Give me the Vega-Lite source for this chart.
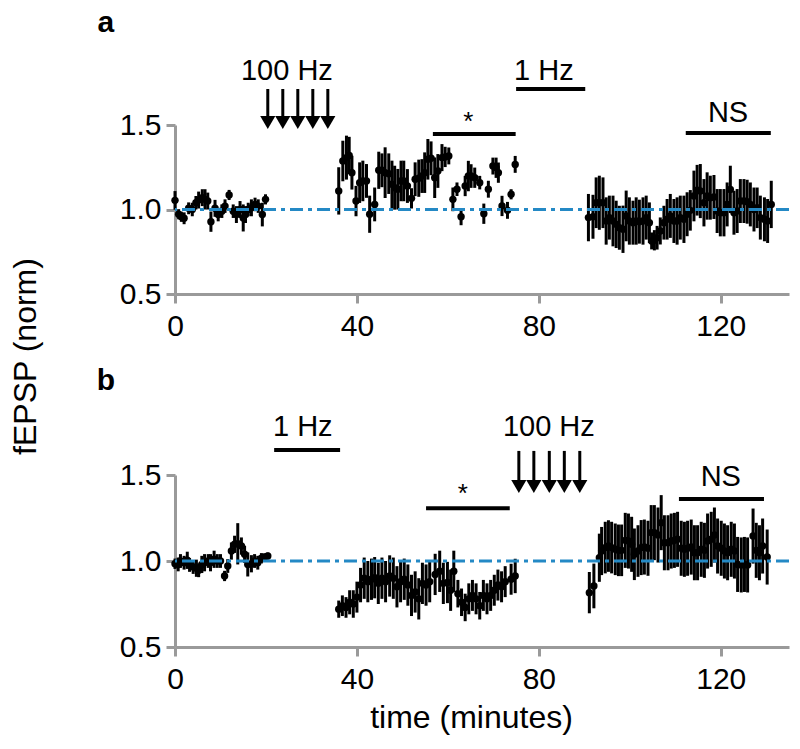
{
  "$schema": "https://vega.github.io/schema/vega-lite/v6.json",
  "background": "white",
  "padding": {"left": 8, "top": 7, "right": 5, "bottom": 5},
  "bounds": "flush",
  "spacing": 181,
  "config": {
    "view": {"stroke": null},
    "font": "Liberation Sans",
    "axis": {"domainColor": "#9a9a9a", "domainWidth": 3, "tickColor": "#9a9a9a", "tickWidth": 3, "tickSize": 9, "labelFont": "Liberation Sans", "labelFontSize": 30, "labelColor": "black", "titleFont": "Liberation Sans", "titleFontSize": 32, "titleFontWeight": "normal", "titleColor": "black", "grid": false, "labelFlush": false}
  },
  "datasets": {
    "ref": [{"level": 1}],
    "pa": [
      {"t":0.0,"v":1.054,"e":0.055},{"t":0.8,"v":0.972,"e":0.03},{"t":1.4,"v":0.957,"e":0.03},{"t":2.0,"v":0.948,"e":0.035},{"t":3.0,"v":1.007,"e":0.035},{"t":3.8,"v":1.0,"e":0.04},{"t":4.6,"v":1.04,"e":0.04},{"t":5.2,"v":1.056,"e":0.05},{"t":6.0,"v":1.07,"e":0.05},{"t":6.6,"v":1.06,"e":0.06},{"t":7.2,"v":1.05,"e":0.05},{"t":7.9,"v":0.928,"e":0.06},{"t":8.8,"v":1.007,"e":0.05},{"t":9.5,"v":0.97,"e":0.04},{"t":10.3,"v":0.99,"e":0.04},{"t":11.0,"v":1.02,"e":0.04},{"t":11.9,"v":1.086,"e":0.03},{"t":12.8,"v":0.99,"e":0.04},{"t":13.5,"v":0.97,"e":0.05},{"t":14.3,"v":1.0,"e":0.05},{"t":15.0,"v":0.95,"e":0.08},{"t":15.5,"v":0.97,"e":0.05},{"t":16.1,"v":1.0,"e":0.04},{"t":16.8,"v":1.01,"e":0.05},{"t":17.6,"v":1.03,"e":0.04},{"t":18.3,"v":1.02,"e":0.04},{"t":19.2,"v":0.97,"e":0.07},{"t":19.9,"v":1.06,"e":0.03},
      {"t":36.0,"v":1.11,"e":0.14},{"t":36.9,"v":1.287,"e":0.12},{"t":37.7,"v":1.307,"e":0.13},{"t":38.3,"v":1.32,"e":0.11},{"t":38.9,"v":1.218,"e":0.1},{"t":39.8,"v":1.05,"e":0.09},{"t":40.6,"v":1.159,"e":0.12},{"t":41.3,"v":1.169,"e":0.12},{"t":42.1,"v":1.169,"e":0.1},{"t":42.8,"v":0.972,"e":0.11},{"t":43.9,"v":1.03,"e":0.1},{"t":44.8,"v":1.232,"e":0.11},{"t":45.5,"v":1.232,"e":0.1},{"t":46.2,"v":1.218,"e":0.15},{"t":47.0,"v":1.212,"e":0.12},{"t":47.7,"v":1.149,"e":0.14},{"t":48.3,"v":1.129,"e":0.13},{"t":49.0,"v":1.12,"e":0.12},{"t":49.7,"v":1.169,"e":0.12},{"t":50.3,"v":1.169,"e":0.12},{"t":51.1,"v":1.139,"e":0.1},{"t":52.0,"v":1.066,"e":0.06},{"t":52.8,"v":1.179,"e":0.1},{"t":53.6,"v":1.185,"e":0.11},{"t":54.3,"v":1.198,"e":0.1},{"t":54.9,"v":1.218,"e":0.12},{"t":55.6,"v":1.297,"e":0.12},{"t":56.3,"v":1.303,"e":0.1},{"t":57.1,"v":1.188,"e":0.12},{"t":57.8,"v":1.228,"e":0.1},{"t":58.7,"v":1.307,"e":0.08},{"t":59.4,"v":1.311,"e":0.06},{"t":60.2,"v":1.317,"e":0.05},{"t":61.1,"v":1.06,"e":0.07},{"t":62.0,"v":1.12,"e":0.04},{"t":62.9,"v":0.957,"e":0.05},{"t":63.8,"v":1.139,"e":0.06},{"t":64.5,"v":1.198,"e":0.09},{"t":65.1,"v":1.198,"e":0.07},{"t":65.9,"v":1.188,"e":0.06},{"t":67.0,"v":1.159,"e":0.04},{"t":67.9,"v":0.975,"e":0.06},{"t":68.9,"v":1.12,"e":0.05},{"t":69.9,"v":1.257,"e":0.05},{"t":70.6,"v":1.247,"e":0.06},{"t":71.1,"v":1.218,"e":0.06},{"t":71.9,"v":1.021,"e":0.06},{"t":73.1,"v":0.995,"e":0.05},{"t":73.9,"v":1.09,"e":0.03},{"t":74.8,"v":1.267,"e":0.05},
      {"t":90.9,"v":0.952,"e":0.14},{"t":91.9,"v":0.957,"e":0.13},{"t":92.6,"v":1.04,"e":0.15},{"t":93.3,"v":1.04,"e":0.16},{"t":94.1,"v":1.04,"e":0.15},{"t":94.8,"v":0.932,"e":0.14},{"t":95.5,"v":0.952,"e":0.13},{"t":96.3,"v":0.932,"e":0.15},{"t":97.0,"v":0.912,"e":0.14},{"t":97.7,"v":0.892,"e":0.13},{"t":98.5,"v":0.883,"e":0.14},{"t":99.2,"v":0.962,"e":0.15},{"t":99.9,"v":0.932,"e":0.14},{"t":100.7,"v":0.922,"e":0.13},{"t":101.4,"v":0.932,"e":0.14},{"t":102.1,"v":0.928,"e":0.13},{"t":102.9,"v":0.932,"e":0.14},{"t":103.6,"v":0.952,"e":0.13},{"t":104.3,"v":0.922,"e":0.12},{"t":104.8,"v":0.814,"e":0.05},{"t":105.4,"v":0.818,"e":0.06},{"t":106.0,"v":0.833,"e":0.07},{"t":106.7,"v":0.873,"e":0.08},{"t":107.5,"v":0.922,"e":0.1},{"t":108.2,"v":0.942,"e":0.12},{"t":108.9,"v":0.962,"e":0.13},{"t":109.7,"v":0.932,"e":0.13},{"t":110.4,"v":0.932,"e":0.14},{"t":111.1,"v":0.952,"e":0.13},{"t":111.9,"v":0.942,"e":0.14},{"t":112.6,"v":0.972,"e":0.13},{"t":113.3,"v":0.995,"e":0.12},{"t":114.1,"v":1.08,"e":0.15},{"t":114.8,"v":1.114,"e":0.15},{"t":115.5,"v":1.109,"e":0.16},{"t":116.3,"v":1.04,"e":0.14},{"t":117.0,"v":1.08,"e":0.14},{"t":117.7,"v":1.07,"e":0.13},{"t":118.5,"v":1.074,"e":0.13},{"t":119.2,"v":0.991,"e":0.13},{"t":119.9,"v":0.981,"e":0.14},{"t":120.7,"v":0.981,"e":0.14},{"t":121.4,"v":1.03,"e":0.13},{"t":122.1,"v":1.119,"e":0.14},{"t":122.9,"v":0.981,"e":0.13},{"t":123.6,"v":0.991,"e":0.13},{"t":124.3,"v":1.05,"e":0.13},{"t":125.1,"v":1.05,"e":0.13},{"t":125.8,"v":1.046,"e":0.13},{"t":126.5,"v":1.03,"e":0.13},{"t":127.3,"v":1.0,"e":0.13},{"t":128.0,"v":1.01,"e":0.12},{"t":128.7,"v":0.952,"e":0.13},{"t":129.6,"v":0.942,"e":0.13},{"t":130.3,"v":0.932,"e":0.13},{"t":131.1,"v":1.03,"e":0.14}
    ],
    "pb": [
      {"t":0.0,"v":0.984,"e":0.03},{"t":0.7,"v":0.98,"e":0.04},{"t":1.2,"v":1.0,"e":0.04},{"t":2.0,"v":0.99,"e":0.04},{"t":2.7,"v":1.004,"e":0.05},{"t":3.2,"v":0.977,"e":0.04},{"t":4.0,"v":0.965,"e":0.04},{"t":4.7,"v":0.958,"e":0.05},{"t":5.2,"v":0.946,"e":0.04},{"t":5.9,"v":0.98,"e":0.05},{"t":6.5,"v":0.99,"e":0.05},{"t":7.3,"v":1.0,"e":0.04},{"t":7.8,"v":0.99,"e":0.05},{"t":8.6,"v":1.01,"e":0.05},{"t":9.3,"v":1.0,"e":0.04},{"t":10.0,"v":1.0,"e":0.04},{"t":10.9,"v":0.913,"e":0.03},{"t":11.6,"v":0.971,"e":0.04},{"t":12.4,"v":1.058,"e":0.05},{"t":13.1,"v":1.097,"e":0.05},{"t":13.8,"v":1.1,"e":0.12},{"t":14.6,"v":1.087,"e":0.05},{"t":15.3,"v":1.039,"e":0.05},{"t":16.0,"v":0.98,"e":0.07},{"t":16.8,"v":0.984,"e":0.05},{"t":17.5,"v":1.0,"e":0.04},{"t":18.2,"v":0.99,"e":0.04},{"t":19.0,"v":1.016,"e":0.03},{"t":19.7,"v":1.023,"e":0.02},{"t":20.4,"v":1.029,"e":0.02},
      {"t":36.0,"v":0.72,"e":0.05},{"t":36.8,"v":0.74,"e":0.06},{"t":37.6,"v":0.73,"e":0.06},{"t":38.4,"v":0.76,"e":0.07},{"t":39.2,"v":0.75,"e":0.08},{"t":40.0,"v":0.79,"e":0.09},{"t":40.8,"v":0.86,"e":0.1},{"t":41.6,"v":0.9,"e":0.12},{"t":42.4,"v":0.88,"e":0.12},{"t":43.2,"v":0.894,"e":0.12},{"t":43.9,"v":0.903,"e":0.12},{"t":44.7,"v":0.87,"e":0.12},{"t":45.5,"v":0.9,"e":0.12},{"t":46.3,"v":0.88,"e":0.12},{"t":47.2,"v":0.913,"e":0.12},{"t":48.0,"v":0.9,"e":0.12},{"t":48.8,"v":0.85,"e":0.12},{"t":49.6,"v":0.88,"e":0.12},{"t":50.4,"v":0.894,"e":0.12},{"t":51.2,"v":0.86,"e":0.12},{"t":52.0,"v":0.8,"e":0.12},{"t":52.8,"v":0.82,"e":0.12},{"t":53.6,"v":0.78,"e":0.12},{"t":54.4,"v":0.87,"e":0.12},{"t":55.2,"v":0.86,"e":0.12},{"t":56.0,"v":0.88,"e":0.12},{"t":57.2,"v":0.922,"e":0.12},{"t":58.2,"v":0.94,"e":0.12},{"t":59.0,"v":0.87,"e":0.12},{"t":59.9,"v":0.875,"e":0.12},{"t":60.6,"v":0.83,"e":0.12},{"t":61.3,"v":0.94,"e":0.12},{"t":62.2,"v":0.81,"e":0.08},{"t":63.0,"v":0.76,"e":0.08},{"t":63.8,"v":0.73,"e":0.08},{"t":64.6,"v":0.78,"e":0.09},{"t":65.4,"v":0.8,"e":0.09},{"t":66.2,"v":0.78,"e":0.09},{"t":67.0,"v":0.74,"e":0.08},{"t":67.8,"v":0.8,"e":0.09},{"t":68.6,"v":0.78,"e":0.09},{"t":69.4,"v":0.8,"e":0.09},{"t":70.2,"v":0.83,"e":0.09},{"t":71.0,"v":0.86,"e":0.09},{"t":71.8,"v":0.85,"e":0.09},{"t":72.6,"v":0.88,"e":0.09},{"t":73.9,"v":0.894,"e":0.09},{"t":74.8,"v":0.913,"e":0.1},
      {"t":91.1,"v":0.816,"e":0.12},{"t":92.1,"v":0.855,"e":0.13},{"t":93.3,"v":1.019,"e":0.14},{"t":93.8,"v":1.058,"e":0.14},{"t":94.6,"v":1.078,"e":0.15},{"t":95.3,"v":1.087,"e":0.15},{"t":96.0,"v":1.078,"e":0.15},{"t":96.8,"v":1.068,"e":0.15},{"t":97.5,"v":1.062,"e":0.15},{"t":98.2,"v":1.062,"e":0.15},{"t":99.0,"v":1.12,"e":0.16},{"t":99.7,"v":1.116,"e":0.16},{"t":100.4,"v":1.097,"e":0.16},{"t":101.0,"v":1.039,"e":0.15},{"t":101.8,"v":1.058,"e":0.15},{"t":102.5,"v":1.078,"e":0.16},{"t":103.2,"v":1.081,"e":0.16},{"t":104.0,"v":1.074,"e":0.16},{"t":104.7,"v":1.165,"e":0.16},{"t":105.4,"v":1.165,"e":0.16},{"t":106.2,"v":1.151,"e":0.16},{"t":106.9,"v":1.223,"e":0.16},{"t":107.6,"v":1.106,"e":0.16},{"t":108.4,"v":1.106,"e":0.16},{"t":109.1,"v":1.116,"e":0.16},{"t":109.8,"v":1.12,"e":0.16},{"t":110.5,"v":1.126,"e":0.16},{"t":111.3,"v":1.074,"e":0.16},{"t":112.0,"v":1.068,"e":0.16},{"t":112.7,"v":1.074,"e":0.16},{"t":113.5,"v":1.081,"e":0.16},{"t":114.2,"v":1.048,"e":0.16},{"t":114.9,"v":1.048,"e":0.16},{"t":115.7,"v":1.068,"e":0.16},{"t":116.4,"v":1.062,"e":0.16},{"t":117.1,"v":1.116,"e":0.16},{"t":117.9,"v":1.126,"e":0.16},{"t":118.6,"v":1.151,"e":0.16},{"t":119.3,"v":1.087,"e":0.16},{"t":120.1,"v":1.074,"e":0.16},{"t":120.8,"v":1.058,"e":0.16},{"t":121.5,"v":1.048,"e":0.16},{"t":122.3,"v":1.068,"e":0.16},{"t":123.0,"v":1.058,"e":0.16},{"t":123.7,"v":0.98,"e":0.16},{"t":124.5,"v":0.977,"e":0.16},{"t":125.2,"v":0.98,"e":0.16},{"t":125.9,"v":0.977,"e":0.16},{"t":127.1,"v":1.145,"e":0.16},{"t":127.8,"v":1.062,"e":0.16},{"t":128.5,"v":1.048,"e":0.16},{"t":129.2,"v":1.087,"e":0.16},{"t":130.2,"v":1.023,"e":0.16}
    ],
    "arrowsA": [{"t":20.4,"top":1.713,"head":1.515},{"t":23.7,"top":1.713,"head":1.515},{"t":27.0,"top":1.713,"head":1.515},{"t":30.3,"top":1.713,"head":1.515},{"t":33.6,"top":1.713,"head":1.515}],
    "arrowsB": [{"t":75.6,"top":1.64,"head":1.433},{"t":78.9,"top":1.64,"head":1.433},{"t":82.3,"top":1.64,"head":1.433},{"t":85.6,"top":1.64,"head":1.433},{"t":89.0,"top":1.64,"head":1.433}],
    "barsA": [{"t1":75.0,"t2":90.2,"v":1.713},{"t1":56.7,"t2":74.9,"v":1.447},{"t1":112.3,"t2":131.0,"v":1.453}],
    "barsB": [{"t1":21.8,"t2":36.3,"v":1.645},{"t1":55.2,"t2":73.6,"v":1.306},{"t1":110.8,"t2":129.5,"v":1.36}],
    "textA": [{"t":24.6,"v":1.82,"label":"100 Hz"},{"t":81.1,"v":1.82,"label":"1 Hz"},{"t":121.6,"v":1.571,"label":"NS"}],
    "textB": [{"t":28.1,"v":1.779,"label":"1 Hz"},{"t":82.2,"v":1.779,"label":"100 Hz"},{"t":120.0,"v":1.488,"label":"NS"}],
    "starA": [{"t":64.5,"v":1.52,"label":"*"}],
    "starB": [{"t":63.3,"v":1.39,"label":"*"}],
    "letterA": [{"t":-15.2,"v":2.104,"label":"a"}],
    "letterB": [{"t":-15.2,"v":2.047,"label":"b"}]
  },
  "vconcat": [
    {
      "width": 614,
      "height": 169,
      "layer": [
        {"data": {"name": "pa"}, "mark": {"type": "errorbar", "color": "black", "thickness": 3}, "encoding": {"x": {"field": "t", "type": "quantitative", "scale": {"domain": [0, 135], "nice": false}, "axis": {"values": [0, 40, 80, 120], "labelPadding": 8, "title": null}}, "y": {"field": "v", "type": "quantitative", "title": "fEPSP (norm)", "scale": {"domain": [0.5, 1.5], "nice": false, "zero": false}, "axis": {"values": [0.5, 1, 1.5], "format": ".1f", "labelPadding": 5, "title": "fEPSP (norm)", "titleAngle": -90, "titleBaseline": "alphabetic", "titleX": -140, "titleY": 231}}, "yError": {"field": "e"}}},
        {"data": {"name": "pa"}, "mark": {"type": "point", "filled": true, "color": "black", "opacity": 1, "size": 55}, "encoding": {"x": {"field": "t", "type": "quantitative", "title": null}, "y": {"field": "v", "type": "quantitative", "title": "fEPSP (norm)"}}},
        {"data": {"name": "barsA"}, "mark": {"type": "rule", "color": "black", "strokeWidth": 4}, "encoding": {"x": {"field": "t1", "type": "quantitative", "title": null}, "x2": {"field": "t2"}, "y": {"field": "v", "type": "quantitative", "title": "fEPSP (norm)"}}},
        {"data": {"name": "arrowsA"}, "mark": {"type": "rule", "color": "black", "strokeWidth": 3}, "encoding": {"x": {"field": "t", "type": "quantitative", "title": null}, "y": {"field": "top", "type": "quantitative", "title": "fEPSP (norm)"}, "y2": {"field": "head"}}},
        {"data": {"name": "arrowsA"}, "mark": {"type": "point", "shape": "triangle-down", "filled": true, "color": "black", "opacity": 1, "size": 230}, "encoding": {"x": {"field": "t", "type": "quantitative", "title": null}, "y": {"field": "head", "type": "quantitative", "title": "fEPSP (norm)"}}},
        {"data": {"name": "textA"}, "mark": {"type": "text", "font": "Liberation Sans", "fontSize": 29, "color": "black", "baseline": "middle", "align": "center"}, "encoding": {"x": {"field": "t", "type": "quantitative", "title": null}, "y": {"field": "v", "type": "quantitative", "title": "fEPSP (norm)"}, "text": {"field": "label"}}},
        {"data": {"name": "starA"}, "mark": {"type": "text", "font": "Liberation Sans", "fontSize": 26, "color": "black", "baseline": "middle", "align": "center"}, "encoding": {"x": {"field": "t", "type": "quantitative", "title": null}, "y": {"field": "v", "type": "quantitative", "title": "fEPSP (norm)"}, "text": {"field": "label"}}},
        {"data": {"name": "letterA"}, "mark": {"type": "text", "font": "Liberation Sans", "fontSize": 30, "fontWeight": "bold", "color": "black", "baseline": "middle", "align": "center"}, "encoding": {"x": {"field": "t", "type": "quantitative", "title": null}, "y": {"field": "v", "type": "quantitative", "title": "fEPSP (norm)"}, "text": {"field": "label"}}},
        {"data": {"name": "ref"}, "mark": {"type": "rule", "color": "#2489c5", "strokeWidth": 3, "strokeDash": [13, 5, 4, 5]}, "encoding": {"y": {"field": "level", "type": "quantitative", "title": "fEPSP (norm)"}}}
      ]
    },
    {
      "width": 614,
      "height": 172,
      "layer": [
        {"data": {"name": "pb"}, "mark": {"type": "errorbar", "color": "black", "thickness": 3}, "encoding": {"x": {"field": "t", "type": "quantitative", "title": "time (minutes)", "scale": {"domain": [0, 135], "nice": false}, "axis": {"values": [0, 40, 80, 120], "labelPadding": 8, "title": "time (minutes)", "titlePadding": 8, "titleX": 296}}, "y": {"field": "v", "type": "quantitative", "scale": {"domain": [0.5, 1.5], "nice": false, "zero": false}, "axis": {"values": [0.5, 1, 1.5], "format": ".1f", "labelPadding": 5, "title": null}}, "yError": {"field": "e"}}},
        {"data": {"name": "pb"}, "mark": {"type": "point", "filled": true, "color": "black", "opacity": 1, "size": 55}, "encoding": {"x": {"field": "t", "type": "quantitative", "title": "time (minutes)"}, "y": {"field": "v", "type": "quantitative"}}},
        {"data": {"name": "barsB"}, "mark": {"type": "rule", "color": "black", "strokeWidth": 4}, "encoding": {"x": {"field": "t1", "type": "quantitative", "title": "time (minutes)"}, "x2": {"field": "t2"}, "y": {"field": "v", "type": "quantitative"}}},
        {"data": {"name": "arrowsB"}, "mark": {"type": "rule", "color": "black", "strokeWidth": 3}, "encoding": {"x": {"field": "t", "type": "quantitative", "title": "time (minutes)"}, "y": {"field": "top", "type": "quantitative"}, "y2": {"field": "head"}}},
        {"data": {"name": "arrowsB"}, "mark": {"type": "point", "shape": "triangle-down", "filled": true, "color": "black", "opacity": 1, "size": 230}, "encoding": {"x": {"field": "t", "type": "quantitative", "title": "time (minutes)"}, "y": {"field": "head", "type": "quantitative"}}},
        {"data": {"name": "textB"}, "mark": {"type": "text", "font": "Liberation Sans", "fontSize": 29, "color": "black", "baseline": "middle", "align": "center"}, "encoding": {"x": {"field": "t", "type": "quantitative", "title": "time (minutes)"}, "y": {"field": "v", "type": "quantitative"}, "text": {"field": "label"}}},
        {"data": {"name": "starB"}, "mark": {"type": "text", "font": "Liberation Sans", "fontSize": 26, "color": "black", "baseline": "middle", "align": "center"}, "encoding": {"x": {"field": "t", "type": "quantitative", "title": "time (minutes)"}, "y": {"field": "v", "type": "quantitative"}, "text": {"field": "label"}}},
        {"data": {"name": "letterB"}, "mark": {"type": "text", "font": "Liberation Sans", "fontSize": 30, "fontWeight": "bold", "color": "black", "baseline": "middle", "align": "center"}, "encoding": {"x": {"field": "t", "type": "quantitative", "title": "time (minutes)"}, "y": {"field": "v", "type": "quantitative"}, "text": {"field": "label"}}},
        {"data": {"name": "ref"}, "mark": {"type": "rule", "color": "#2489c5", "strokeWidth": 3, "strokeDash": [13, 5, 4, 5]}, "encoding": {"y": {"field": "level", "type": "quantitative"}}}
      ]
    }
  ],
  "resolve": {"scale": {"x": "independent", "y": "independent"}}
}
